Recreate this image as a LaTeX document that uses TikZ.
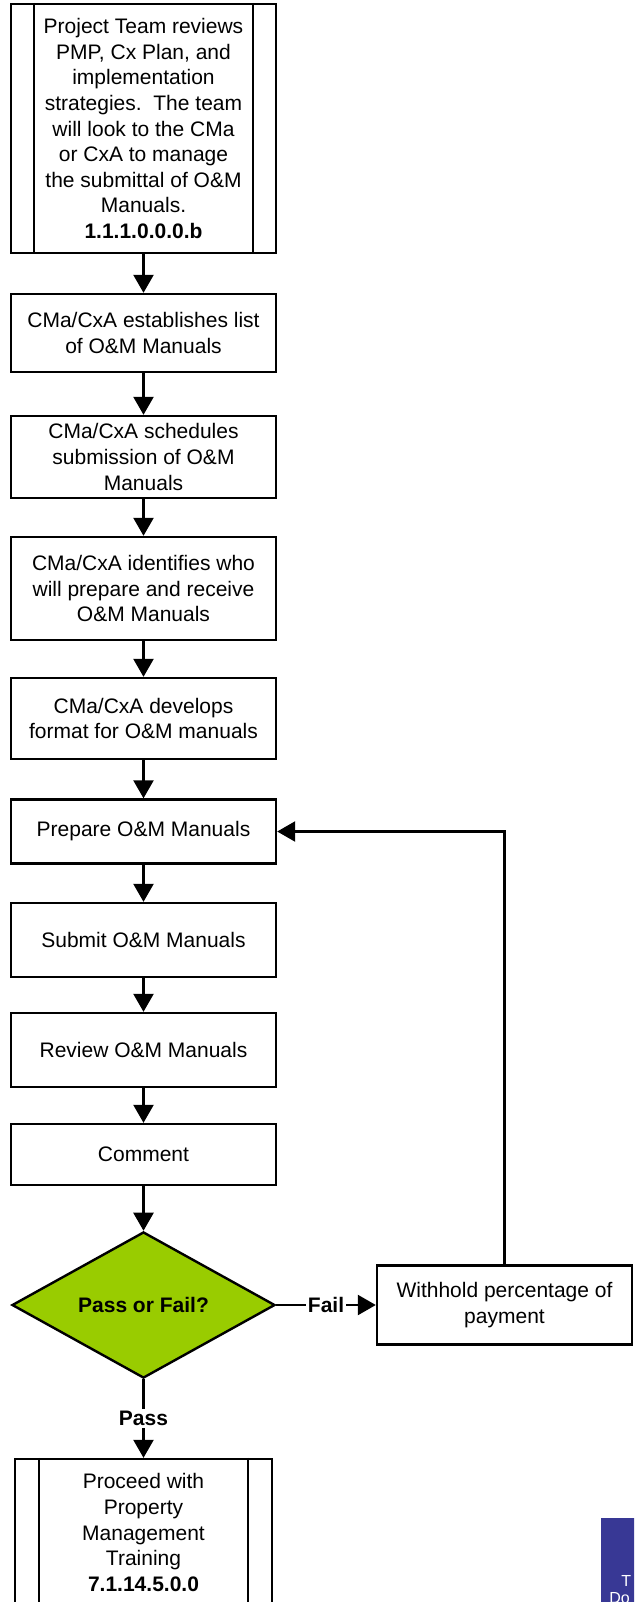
\documentclass[tikz,border=0pt]{standalone}
\usepackage{fontspec}
\setmainfont{Liberation Sans}
\usetikzlibrary{arrows.meta,positioning,shapes.geometric}
\definecolor{passgreen}{HTML}{99CC00}
\definecolor{notenavy}{HTML}{383895}
\tikzset{box/.style={draw,line width=1.2pt,fill=white,align=center,minimum width=132.5pt,inner sep=2pt,font=\fontsize{10.5}{12.8}\selectfont},
  subproc/.style={box},
  decision/.style={diamond,draw,line width=1.2pt,fill=passgreen,minimum width=131.5pt,minimum height=72pt,inner sep=0pt,font=\bfseries\fontsize{10.5}{12.8}\selectfont},
  arr/.style={-{Triangle[length=9pt,width=10pt]},line width=1.2pt},
  lbl/.style={fill=white,inner sep=1pt,font=\bfseries\fontsize{10.5}{12.8}\selectfont},
  notetext/.style={text=white,anchor=west,inner sep=0pt,font=\fontsize{8}{9}\selectfont}}

\begin{document}
\begin{tikzpicture}[x=0.5pt,y=-0.5pt]
\path[use as bounding box,clip] (0,0) rectangle (634,1602);
% main column
\node[subproc,minimum height=124.5pt] (rev) at (143.5,128.5) {Project Team reviews\\PMP, Cx Plan, and\\implementation\\strategies.\ \ The team\\will look to the CMa\\or CxA to manage\\the submittal of O\&M\\Manuals.\\\textbf{1.1.1.0.0.0.b}};
\draw[line width=1.2pt] ([xshift=12pt]rev.north west) -- ([xshift=12pt]rev.south west);
\draw[line width=1.2pt] ([xshift=-12pt]rev.north east) -- ([xshift=-12pt]rev.south east);
\node[box,minimum height=39pt] (list) at (143.5,333) {CMa/CxA establishes list\\of O\&M Manuals};
\node[box,minimum height=41pt] (sched) at (143.5,457) {CMa/CxA schedules\\submission of O\&M\\Manuals};
\node[box,minimum height=51.5pt] (who) at (143.5,588.5) {CMa/CxA identifies who\\will prepare and receive\\O\&M Manuals};
\node[box,minimum height=40.5pt] (fmt) at (143.5,718.5) {CMa/CxA develops\\format for O\&M manuals};
\node[box,minimum height=32pt] (prep) at (143.5,831.5) {Prepare O\&M Manuals};
\node[box,minimum height=37pt] (sub) at (143.5,940) {Submit O\&M Manuals};
\node[box,minimum height=37pt] (review) at (143.5,1050) {Review O\&M Manuals};
\node[box,minimum height=30.5pt] (comm) at (143.5,1154.5) {Comment};
\node[decision] (dec) at (143.5,1305) {Pass or Fail?};
\node[box,minimum width=127.5pt,minimum height=39.5pt] (wh) at (504.5,1305) {Withhold percentage of\\payment};
\node[subproc,minimum width=128.5pt,minimum height=73.5pt] (train) at (143.5,1532.5) {Proceed with\\Property\\Management\\Training\\\textbf{7.1.14.5.0.0}};
\draw[line width=1.2pt] ([xshift=12.5pt]train.north west) -- ([xshift=12.5pt]train.south west);
\draw[line width=1.2pt] ([xshift=-12.5pt]train.north east) -- ([xshift=-12.5pt]train.south east);
% note in the corner
\node[fill=notenavy,minimum width=30pt,minimum height=50pt,anchor=north west] (note) at (601,1518) {};
\node[notetext] (notea) at (621,1581) {T};
\node[notetext] (noteb) at (609,1598) {Do};
% connectors
\foreach \a/\b in {rev/list,list/sched,sched/who,who/fmt,fmt/prep,prep/sub,sub/review,review/comm,comm/dec}
  \draw[arr] (\a) -- (\b);
\draw[arr] (dec) -- node[lbl]{Fail} (wh);
\draw[arr] (dec) -- node[lbl]{Pass} (train);
\draw[arr] (wh.north) |- (prep.east);
\end{tikzpicture}
\end{document}
